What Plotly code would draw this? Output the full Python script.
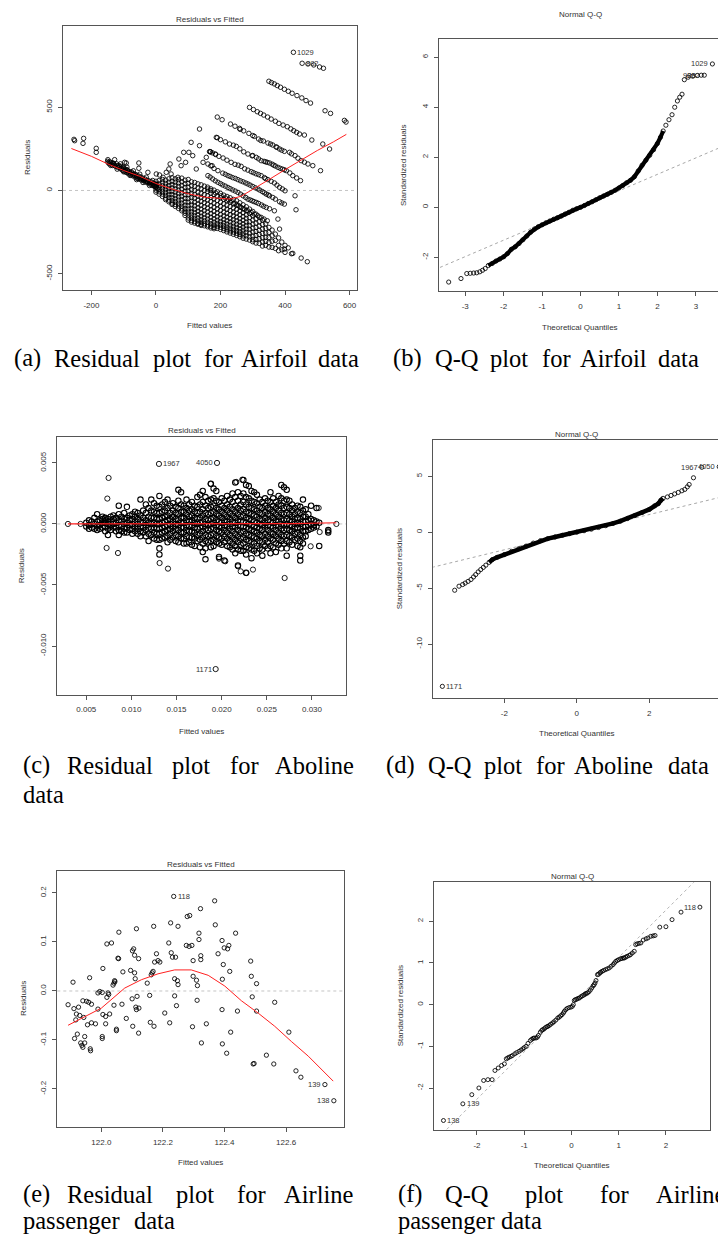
import plotly.graph_objects as go

W, H = 726, 1235
SANS = "Liberation Sans, Arial, sans-serif"
SERIF = "Liberation Serif, Times New Roman, serif"

# ================= (a) Residuals vs Fitted : Airfoil =================
a_points = [
    (-254, 307), (-252, 299), (-224, 313), (-226, 283), (-185, 253), (-185, 229),
    (-149, 185), (-128, 185), (-133, 165), (-97, 169), (-92, 165), (-53, 165), (-53, 133),
    (-150, 175), (-145, 160), (-140, 168), (-135, 150), (-130, 158), (-125, 145), (-122, 160),
    (-118, 138), (-115, 150), (-110, 130), (-108, 145), (-104, 122), (-100, 135), (-98, 115),
    (-95, 128), (-92, 108), (-88, 120), (-85, 100), (-82, 112), (-78, 95), (-75, 105), (-72, 88),
    (-68, 100), (-65, 80), (-62, 95), (-58, 72), (-55, 88), (-52, 68), (-48, 82), (-45, 62),
    (-42, 75), (-38, 58), (-35, 70), (-32, 50), (-28, 62), (-25, 45), (-22, 58), (-18, 38),
    (-15, 52), (-12, 30), (-8, 45), (-5, 25), (-2, 40), (0, 20), (3, 35), (5, 10),
    (-148, 168), (-143, 172), (-138, 158), (-133, 162), (-128, 150), (-120, 148), (-113, 142),
    (-106, 132), (-102, 140), (-96, 120), (-90, 125), (-86, 110), (-80, 105), (-76, 112), (-70, 95),
    (-66, 90), (-60, 85), (-56, 78), (-50, 75), (-46, 70), (-40, 65), (-36, 62), (-30, 56),
    (-26, 52), (-20, 48), (-16, 44), (-10, 38), (-6, 32), (-3, 28), (1, 26), (-140, 150),
    (-120, 128), (-100, 112), (-80, 90), (-60, 65), (-40, 48), (-20, 30), (-110, 160), (-90, 140),
    (-70, 118), (-50, 98), (-30, 80), (-10, 60),
    (-25, 109), (1, 99), (11, 93), (22, 79), (32, 109), (40, 129), (44, 159), (47, 99), (68, 79),
    (71, 189), (78, 149), (86, 229), (92, 169), (102, 229), (109, 289), (114, 209), (125, 129),
    (135, 369), (135, 269), (146, 169), (156, 199), (168, 233), (174, 149), (190, 441), (261, 367),
    (190, 317), (169, 232), (185, 216),
    # stripes (upper right)
    (350, 656), (367, 640), (386, 620), (422, 584), (452, 556), (479, 525), (524, 479), (541, 463),
    (584, 421), (589, 411), (358, 648), (376, 630), (398, 608), (410, 596), (437, 570), (465, 540),
    (471, 760), (489, 754), (507, 742), (519, 734),
    (290, 499), (314, 473), (334, 453), (357, 429), (381, 403), (407, 383), (427, 359), (445, 339),
    (460, 333), (483, 303), (517, 279), (538, 249), (302, 486), (324, 463), (346, 441), (370, 416),
    (394, 393), (418, 370), (436, 349),
    (231, 399), (259, 373), (288, 343), (318, 309), (347, 285), (362, 273), (383, 249), (398, 235),
    (414, 229), (431, 209), (450, 179), (471, 159), (486, 149), (510, 119), (305, 325), (333, 297),
    (375, 259), (440, 194), (205, 425), (245, 386), (272, 358), (300, 330), (325, 300), (355, 279),
    (372, 262), (390, 242), (420, 220), (460, 170),
    (187, 319), (228, 279), (249, 265), (285, 219), (311, 199), (326, 179), (352, 165), (378, 139),
    (404, 119), (424, 89), (448, 59), (300, 210), (340, 172), (365, 152), (392, 128), (200, 305),
    (215, 292), (240, 272), (260, 250), (272, 232), (298, 208), (318, 190), (335, 175), (345, 169),
    (360, 158), (370, 147), (385, 133), (398, 124), (415, 105), (436, 75),
    (166, 233), (184, 219), (233, 169), (264, 145), (295, 113), (326, 89), (347, 65), (367, 45),
    (383, 19), (400, -2), (431, -32), (434, -116), (208, 195), (245, 157), (275, 130), (310, 100),
    (336, 77), (357, 55), (175, 226), (195, 205), (220, 182), (255, 152), (285, 122), (302, 107),
    (318, 95), (340, 71), (375, 32), (392, 9),
    (161, 159), (192, 119), (223, 89), (254, 65), (285, 39), (316, 9), (342, -22), (362, -42),
    (383, -68), (398, -82), (207, 104), (238, 77), (270, 52), (300, 24), (330, -7), (352, -32),
    (170, 148), (180, 132), (215, 97), (230, 84), (246, 72), (262, 58), (278, 45), (292, 32),
    (308, 16), (322, 2), (336, -14), (348, -27), (370, -52), (390, -75),
    (161, 89), (192, 49), (223, 18), (254, -12), (285, -52), (311, -72), (342, -102), (367, -122),
    (176, 69), (207, 33), (238, 3), (270, -32), (298, -62), (327, -87), (168, 80), (184, 58),
    (200, 41), (215, 26), (230, 11), (246, -4), (262, -22), (278, -42), (292, -57), (304, -67),
    (318, -78), (334, -95), (352, -110),
    (161, 9), (202, -32), (233, -62), (264, -102), (295, -132), (326, -162), (345, -182),
    (378, -172), (383, -232), (170, 0), (185, -15), (215, -45), (225, -55), (245, -78), (255, -90),
    (275, -112), (285, -122), (305, -142), (316, -152), (335, -172),
    (398, -352), (424, -378), (450, -406), (469, -428),
]
a_band = [
    (0, [55, 35, 18, 2, -10]), (10, [60, 40, 22, 6, -8, -22]),
    (20, [66, 46, 28, 10, -6, -22, -36]), (30, [62, 42, 24, 6, -12, -30, -46, -55]),
    (40, [70, 50, 30, 12, -6, -24, -42, -58, -68]),
    (50, [76, 55, 35, 15, -5, -25, -44, -62, -76, -84]),
    (60, [70, 50, 30, 10, -10, -30, -49, -67, -84, -96]),
    (70, [66, 45, 24, 3, -18, -38, -58, -77, -94, -108]),
    (80, [74, 52, 30, 8, -14, -35, -56, -76, -95, -111, -122]),
    (90, [62, 40, 18, -4, -26, -48, -69, -89, -108, -124, -137, -150]),
    (100, [66, 43, 20, -3, -26, -48, -70, -91, -111, -130, -148, -165, -178]),
    (110, [52, 28, 4, -20, -43, -66, -88, -109, -129, -148, -165, -180, -190]),
    (120, [48, 24, 0, -24, -47, -70, -92, -113, -133, -152, -170, -186, -196]),
    (130, [40, 15, -10, -34, -58, -81, -104, -125, -146, -165, -183, -198, -203]),
    (140, [34, 9, -16, -41, -65, -89, -112, -134, -155, -174, -191, -204, -210]),
    (150, [26, 0, -25, -50, -74, -98, -121, -143, -164, -183, -200, -212]),
    (160, [20, -6, -32, -57, -82, -106, -129, -151, -172, -191, -208, -218]),
    (170, [10, -16, -42, -67, -92, -116, -139, -161, -182, -200, -215, -225]),
    (180, [2, -24, -50, -76, -101, -125, -148, -170, -190, -208, -222, -230]),
    (190, [-8, -34, -60, -86, -111, -135, -158, -179, -198, -214, -228]),
    (200, [-18, -44, -70, -95, -120, -144, -166, -187, -205, -221, -234]),
    (210, [-28, -54, -80, -105, -130, -153, -175, -195, -212, -228, -241]),
    (220, [-36, -62, -88, -113, -137, -160, -182, -202, -220, -236, -249]),
    (230, [-44, -70, -96, -121, -145, -168, -189, -209, -227, -243, -256]),
    (240, [-54, -80, -105, -130, -153, -175, -196, -216, -234, -250, -263]),
    (250, [-62, -88, -113, -137, -160, -182, -203, -223, -241, -257, -270]),
    (260, [-74, -99, -123, -146, -169, -190, -210, -230, -248, -264, -278]),
    (270, [-86, -110, -134, -157, -179, -200, -220, -239, -257, -273, -287]),
    (280, [-98, -122, -146, -168, -190, -211, -232, -252, -272, -292]),
    (290, [-112, -138, -163, -188, -210, -233, -256, -278, -298]),
    (300, [-126, -152, -178, -202, -226, -250, -274, -296, -308]),
    (310, [-142, -170, -196, -222, -246, -270, -294, -316]),
    (320, [-160, -188, -214, -240, -264, -290, -318]),
    (330, [-178, -205, -232, -258, -284, -310, -334]),
    (340, [-200, -228, -255, -282, -306, -330]),
    (350, [-222, -252, -282, -312, -340]), (360, [-238, -272, -305, -342]),
    (370, [-262, -300, -348]), (380, [-285, -330, -362]), (390, [-310, -356]),
    (400, [-330, -372]), (410, [-345]), (420, [-380]),
]
a_labeled = [(426, 830, "1029"), (453, 764, "882")]
a_lowess_fit = [-262, -200, -150, -100, -50, 0, 50, 100, 150, 200, 230, 264, 300, 350, 400, 450, 500, 550, 590]
a_lowess_res = [252, 205, 160, 120, 85, 42, 8, -20, -40, -50, -52, -35, 5, 65, 125, 185, 240, 292, 337]

# ================= (b) Normal Q-Q : Airfoil =================
b_qq = [
    (-3.43, -2.99), (-3.11, -2.85), (-2.96, -2.65), (-2.87, -2.64), (-2.78, -2.63), (-2.70, -2.62),
    (-2.62, -2.58), (-2.55, -2.52), (-2.48, -2.45), (-2.40, -2.33), (-2.30, -2.25), (-2.20, -2.15),
    (-2.10, -2.07), (-2.00, -1.98), (-1.90, -1.85), (-1.80, -1.68), (-1.70, -1.58), (-1.60, -1.45),
    (-1.50, -1.30), (-1.40, -1.15), (-1.30, -1.00), (-1.20, -0.87), (-1.10, -0.78), (-1.00, -0.70),
    (-0.90, -0.62), (-0.80, -0.55), (-0.70, -0.48), (-0.60, -0.42), (-0.50, -0.35), (-0.40, -0.27),
    (-0.30, -0.20), (-0.20, -0.12), (-0.10, -0.06), (0.00, 0.00), (0.10, 0.07), (0.20, 0.15),
    (0.30, 0.22), (0.40, 0.30), (0.50, 0.38), (0.60, 0.45), (0.70, 0.52), (0.80, 0.60), (0.90, 0.68),
    (1.00, 0.77), (1.10, 0.87), (1.20, 0.98), (1.30, 1.08), (1.40, 1.22), (1.50, 1.45), (1.60, 1.68),
    (1.70, 1.88), (1.80, 2.08), (1.90, 2.30), (2.00, 2.55), (2.08, 2.80), (2.15, 3.05), (2.22, 3.28),
    (2.30, 3.50), (2.38, 3.70), (2.45, 4.00), (2.52, 4.25), (2.58, 4.40), (2.64, 4.52), (2.70, 5.10),
    (2.80, 5.20), (2.92, 5.24), (3.04, 5.27), (3.14, 5.28), (3.22, 5.28), (3.43, 5.73),
]
b_line_th = [-3.8, 3.8]
b_line_sr = [-2.50, 2.50]

# ================= (c) Residuals vs Fitted : Aboline =================
c_cols = [
    (0.0050, [0.0001, -0.0002]), (0.0053, [0.0003, -0.0001, -0.0004]), (0.0056, [0.0002, -0.0003]),
    (0.0059, [0.0005, 0.0000, -0.0004]), (0.0062, [0.0008, 0.0002, -0.0002, -0.0005]),
    (0.0065, [0.0003, -0.0001, -0.0004]), (0.0068, [0.0004, 0.0001, -0.0003, 0.0006]),
    (0.0071, [0.0005, 0.0001, -0.0002, -0.0006, 0.0003]),
    (0.0074, [0.0004, 0.0000, -0.0004, -0.0009, 0.0002]),
    (0.0077, [0.0006, 0.0002, -0.0002, -0.0005]), (0.0080, [0.0004, 0.0000, -0.0003, 0.0007]),
    (0.0083, [0.0005, 0.0001, -0.0003, -0.0006]),
    (0.0086, [0.0015, 0.0008, 0.0003, -0.0001, -0.0005, -0.0009]),
    (0.0089, [0.0006, 0.0002, -0.0002, -0.0006]),
    (0.0092, [0.0009, 0.0004, 0.0000, -0.0004, -0.0007]),
    (0.0095, [0.0014, 0.0005, 0.0001, -0.0003, -0.0007]),
    (0.0098, [0.0007, 0.0003, -0.0001, -0.0005]),
    (0.0101, [0.0008, 0.0004, 0.0000, -0.0004, -0.0008]),
    (0.0104, [0.0006, 0.0002, -0.0002, -0.0006, 0.0010]),
    (0.0107, [0.0009, 0.0004, 0.0000, -0.0004, -0.0008]),
    (0.0110, [0.0020, 0.0007, 0.0002, -0.0002, -0.0006, -0.0010]),
    (0.0113, [0.0011, 0.0005, 0.0001, -0.0003, -0.0007]),
    (0.0116, [0.0016, 0.0009, 0.0003, -0.0001, -0.0005, -0.0010]),
    (0.0119, [0.0013, 0.0006, 0.0001, -0.0003, -0.0008, -0.0014]),
    (0.0122, [0.0020, 0.0011, 0.0005, 0.0000, -0.0004, -0.0009]),
    (0.0125, [0.0017, 0.0010, 0.0005, 0.0001, -0.0003, -0.0007, -0.0012]),
    (0.0128, [0.0015, 0.0009, 0.0004, 0.0000, -0.0004, -0.0008, -0.0013]),
    (0.0131, [0.0023, 0.0014, 0.0009, 0.0004, 0.0000, -0.0004, -0.0008, -0.0013, -0.0020, -0.0025]),
    (0.0134, [0.0016, 0.0010, 0.0005, 0.0001, -0.0003, -0.0007, -0.0012]),
    (0.0137, [0.0018, 0.0011, 0.0006, 0.0002, -0.0002, -0.0006, -0.0011]),
    (0.0140, [0.0020, 0.0013, 0.0007, 0.0003, -0.0001, -0.0005, -0.0010, -0.0015]),
    (0.0143, [0.0015, 0.0009, 0.0004, 0.0000, -0.0004, -0.0008, -0.0013]),
    (0.0146, [0.0017, 0.0011, 0.0006, 0.0002, -0.0002, -0.0006, -0.0011]),
    (0.0149, [0.0014, 0.0009, 0.0004, 0.0000, -0.0004, -0.0009, -0.0014]),
    (0.0152, [0.0028, 0.0019, 0.0013, 0.0008, 0.0003, -0.0001, -0.0005, -0.0010, -0.0015]),
    (0.0155, [0.0026, 0.0016, 0.0010, 0.0005, 0.0001, -0.0003, -0.0007, -0.0012]),
    (0.0158, [0.0015, 0.0010, 0.0005, 0.0001, -0.0003, -0.0007, -0.0012, -0.0016]),
    (0.0161, [0.0020, 0.0013, 0.0008, 0.0003, -0.0001, -0.0005, -0.0010, -0.0016]),
    (0.0164, [0.0016, 0.0011, 0.0006, 0.0002, -0.0002, -0.0006, -0.0011, -0.0015]),
    (0.0167, [0.0018, 0.0012, 0.0007, 0.0003, -0.0001, -0.0006, -0.0011, -0.0017]),
    (0.0170, [0.0015, 0.0010, 0.0005, 0.0001, -0.0003, -0.0007, -0.0012, -0.0018]),
    (0.0173, [0.0022, 0.0014, 0.0009, 0.0004, 0.0000, -0.0004, -0.0009, -0.0014]),
    (0.0176, [0.0024, 0.0016, 0.0010, 0.0005, 0.0001, -0.0003, -0.0008, -0.0013, -0.0019]),
    (0.0179, [0.0027, 0.0018, 0.0012, 0.0007, 0.0002, -0.0002, -0.0006, -0.0011, -0.0016, -0.0023]),
    (0.0182, [0.0022, 0.0015, 0.0009, 0.0004, 0.0000, -0.0004, -0.0009, -0.0014, -0.0020, -0.0029]),
    (0.0185, [0.0019, 0.0013, 0.0008, 0.0003, -0.0001, -0.0005, -0.0010, -0.0015]),
    (0.0188, [0.0033, 0.0020, 0.0014, 0.0009, 0.0004, 0.0000, -0.0004, -0.0009, -0.0014, -0.0019]),
    (0.0191, [0.0029, 0.0021, 0.0015, 0.0010, 0.0005, 0.0001, -0.0003, -0.0008, -0.0013, -0.0018]),
    (0.0194, [0.0027, 0.0019, 0.0013, 0.0008, 0.0003, -0.0001, -0.0005, -0.0010, -0.0015]),
    (0.0197, [0.0018, 0.0012, 0.0007, 0.0002, -0.0002, -0.0006, -0.0011, -0.0016, -0.0027]),
    (0.0200, [0.0021, 0.0015, 0.0010, 0.0005, 0.0001, -0.0003, -0.0007, -0.0012, -0.0017]),
    (0.0203, [0.0019, 0.0013, 0.0008, 0.0003, -0.0001, -0.0005, -0.0010, -0.0015, -0.0030]),
    (0.0206, [0.0023, 0.0016, 0.0011, 0.0006, 0.0002, -0.0002, -0.0007, -0.0012, -0.0018]),
    (0.0209, [0.0020, 0.0014, 0.0009, 0.0004, 0.0000, -0.0004, -0.0009, -0.0014, -0.0019]),
    (0.0212, [0.0025, 0.0018, 0.0012, 0.0007, 0.0002, -0.0002, -0.0006, -0.0011, -0.0016, -0.0021]),
    (0.0215, [0.0034, 0.0022, 0.0015, 0.0010, 0.0005, 0.0001, -0.0003, -0.0008, -0.0013, -0.0018, -0.0024]),
    (0.0218, [0.0026, 0.0019, 0.0013, 0.0008, 0.0003, -0.0001, -0.0005, -0.0010, -0.0015, -0.0021, -0.0034]),
    (0.0221, [0.0023, 0.0016, 0.0011, 0.0006, 0.0002, -0.0002, -0.0007, -0.0012, -0.0017, -0.0022]),
    (0.0224, [0.0036, 0.0025, 0.0018, 0.0012, 0.0007, 0.0002, -0.0002, -0.0006, -0.0011, -0.0016, -0.0022]),
    (0.0227, [0.0032, 0.0022, 0.0016, 0.0010, 0.0005, 0.0001, -0.0003, -0.0008, -0.0013, -0.0019, -0.0025, -0.0040]),
    (0.0230, [0.0031, 0.0021, 0.0014, 0.0009, 0.0004, 0.0000, -0.0004, -0.0009, -0.0014, -0.0020]),
    (0.0233, [0.0027, 0.0019, 0.0013, 0.0008, 0.0003, -0.0001, -0.0005, -0.0010, -0.0015, -0.0021, -0.0028]),
    (0.0236, [0.0026, 0.0018, 0.0012, 0.0007, 0.0002, -0.0002, -0.0006, -0.0011, -0.0016, -0.0022]),
    (0.0239, [0.0024, 0.0017, 0.0011, 0.0006, 0.0001, -0.0003, -0.0007, -0.0012, -0.0018, -0.0024]),
    (0.0242, [0.0020, 0.0014, 0.0009, 0.0004, 0.0000, -0.0004, -0.0009, -0.0014, -0.0020]),
    (0.0245, [0.0018, 0.0013, 0.0008, 0.0003, -0.0001, -0.0005, -0.0010, -0.0015, -0.0021, -0.0026]),
    (0.0248, [0.0021, 0.0015, 0.0010, 0.0005, 0.0001, -0.0003, -0.0008, -0.0013, -0.0018]),
    (0.0251, [0.0019, 0.0013, 0.0008, 0.0003, -0.0001, -0.0005, -0.0010, -0.0015, -0.0020]),
    (0.0254, [0.0026, 0.0018, 0.0012, 0.0007, 0.0002, -0.0002, -0.0007, -0.0012, -0.0018, -0.0024]),
    (0.0257, [0.0021, 0.0015, 0.0010, 0.0005, 0.0001, -0.0003, -0.0008, -0.0013, -0.0019]),
    (0.0260, [0.0018, 0.0013, 0.0008, 0.0003, -0.0001, -0.0005, -0.0010, -0.0016, -0.0023]),
    (0.0263, [0.0023, 0.0016, 0.0011, 0.0006, 0.0002, -0.0002, -0.0007, -0.0012, -0.0017]),
    (0.0266, [0.0032, 0.0021, 0.0015, 0.0009, 0.0004, 0.0000, -0.0004, -0.0009, -0.0014, -0.0020]),
    (0.0269, [0.0030, 0.0019, 0.0013, 0.0008, 0.0003, -0.0001, -0.0005, -0.0010, -0.0016]),
    (0.0272, [0.0028, 0.0020, 0.0014, 0.0009, 0.0004, 0.0000, -0.0004, -0.0009, -0.0014, -0.0020, -0.0026]),
    (0.0275, [0.0019, 0.0013, 0.0008, 0.0003, -0.0001, -0.0005, -0.0010, -0.0015]),
    (0.0278, [0.0016, 0.0011, 0.0006, 0.0002, -0.0002, -0.0006, -0.0011, -0.0017]),
    (0.0281, [0.0013, 0.0008, 0.0004, 0.0000, -0.0004, -0.0008, -0.0013]),
    (0.0284, [0.0015, 0.0010, 0.0005, 0.0001, -0.0003, -0.0007, -0.0012, -0.0018]),
    (0.0287, [0.0014, 0.0009, 0.0004, 0.0000, -0.0004, -0.0009, -0.0014, -0.0019, -0.0026, -0.0030]),
    (0.0290, [0.0020, 0.0011, 0.0006, 0.0002, -0.0002, -0.0006, -0.0011, -0.0016]),
    (0.0293, [0.0012, 0.0006, 0.0002, -0.0002, -0.0006, -0.0010]),
    (0.0296, [0.0008, 0.0003, -0.0001, -0.0005]), (0.0299, [0.0015, 0.0004, 0.0000, -0.0004]),
    (0.0302, [0.0003, -0.0001, -0.0003]), (0.0305, [0.0002, -0.0002, 0.0013]),
    (0.0308, [0.0001, -0.0018]), (0.0318, [-0.0005, -0.0007]),
]
c_points = [
    (0.00297, 0.0), (0.00437, 0.0), (0.00747, 0.00377), (0.00733, 0.00208), (0.00725, -0.00197),
    (0.00851, -0.00238), (0.01405, -0.00366), (0.01312, -0.0032), (0.02697, -0.00443),
    (0.02228, 0.00363), (0.02162, 0.00344), (0.01877, 0.00328), (0.02273, -0.00402),
    (0.02210, -0.00388), (0.02346, -0.00374), (0.0218, -0.00347), (0.0204, -0.00306),
    (0.0197, -0.00284), (0.03085, -0.00066), (0.03178, -0.0006), (0.02985, -0.00183),
    (0.03074, 0.00131), (0.0327, 0.0),
]
c_labeled = [(0.01305, 0.00492, "1967", "r"), (0.01948, 0.0050, "4050", "l"), (0.01933, -0.01189, "1171", "l")]
c_lowess_fit = [0.00297, 0.010, 0.020, 0.028, 0.0327]
c_lowess_res = [0.0, 0.0, 0.0, 0.00003, 0.0001]

# ================= (d) Normal Q-Q : Aboline =================
d_qq = [
    (-3.37, -5.19), (-3.25, -4.83), (-3.15, -4.68), (-3.08, -4.55), (-3.00, -4.40), (-2.92, -4.23),
    (-2.85, -4.00), (-2.79, -3.79), (-2.72, -3.55), (-2.65, -3.34), (-2.58, -3.15), (-2.51, -2.95),
    (-2.42, -2.70), (-2.33, -2.45), (-2.20, -2.25), (-2.00, -2.00), (-1.80, -1.72), (-1.60, -1.48),
    (-1.40, -1.25), (-1.20, -0.98), (-1.00, -0.76), (-0.80, -0.58), (-0.60, -0.43), (-0.40, -0.28),
    (-0.20, -0.13), (0.00, 0.00), (0.20, 0.13), (0.40, 0.27), (0.60, 0.42), (0.80, 0.58),
    (1.00, 0.78), (1.20, 0.98), (1.40, 1.22), (1.60, 1.48), (1.80, 1.75), (2.00, 2.03),
    (2.15, 2.35), (2.25, 2.55), (2.32, 2.85), (2.38, 3.02), (2.50, 3.15), (2.60, 3.28),
    (2.70, 3.42), (2.80, 3.55), (2.90, 3.70), (2.98, 3.82), (3.05, 4.05), (3.10, 4.26),
    (3.22, 4.86),
]
d_labeled = [(-3.71, -13.78, "1171", "r"), (3.45, 5.80, "1967", "l"), (3.93, 5.85, "4050", "l")]
d_line_th = [-4.0, 4.0]
d_line_sr = [-3.15, 3.15]

# ================= (e) Residuals vs Fitted : Airline passenger =================
e_points = [
    (121.892, -0.028), (121.908, 0.018), (121.911, -0.036), (121.913, -0.097), (121.917, -0.059),
    (121.919, -0.047), (121.922, -0.088), (121.926, -0.033), (121.930, -0.050), (121.933, -0.106),
    (121.937, -0.111), (121.940, -0.020), (121.940, -0.115), (121.943, -0.054), (121.946, -0.093),
    (121.946, -0.106), (121.952, -0.021), (121.955, -0.069), (121.959, -0.023), (121.962, 0.027),
    (121.964, -0.118), (121.965, -0.122), (121.968, -0.027), (121.968, -0.065), (121.981, -0.067),
    (121.989, -0.037), (121.989, -0.004), (121.995, -0.001), (122.003, -0.003), (122.003, -0.093),
    (122.003, -0.097), (122.005, 0.046), (122.005, -0.048), (122.014, -0.067), (122.014, -0.052),
    (122.018, 0.096), (122.018, -0.013), (122.022, -0.004), (122.024, -0.007), (122.027, -0.047),
    (122.033, 0.098), (122.038, 0.012), (122.041, -0.029), (122.041, 0.016), (122.043, 0.021),
    (122.044, 0.019), (122.049, -0.078), (122.049, -0.081), (122.054, 0.067), (122.056, 0.066),
    (122.057, 0.120), (122.067, -0.027), (122.070, 0.039), (122.081, -0.056), (122.095, 0.042),
    (122.100, -0.016), (122.101, 0.082), (122.105, 0.086), (122.102, -0.072), (122.108, 0.073),
    (122.108, 0.037), (122.110, 0.025), (122.112, -0.033), (122.114, -0.038), (122.114, 0.127),
    (122.116, -0.011), (122.121, 0.066), (122.122, -0.035), (122.121, -0.086), (122.149, 0.016),
    (122.157, -0.009), (122.159, -0.064), (122.162, 0.033), (122.165, 0.037), (122.168, 0.040),
    (122.170, 0.132), (122.171, -0.072), (122.173, 0.059), (122.179, 0.076), (122.184, 0.062),
    (122.190, 0.059), (122.206, -0.045), (122.219, 0.098), (122.222, -0.065), (122.225, 0.139),
    (122.227, 0.078), (122.231, 0.069), (122.238, 0.025), (122.238, -0.010), (122.241, 0.069),
    (122.244, -0.030), (122.247, 0.021), (122.249, 0.013), (122.249, 0.132), (122.276, 0.093),
    (122.285, 0.091), (122.279, 0.152), (122.287, 0.154), (122.294, 0.093), (122.298, 0.062),
    (122.296, -0.073), (122.298, 0.030), (122.309, 0.022), (122.312, 0.011), (122.311, -0.019),
    (122.317, 0.118), (122.317, 0.105), (122.322, 0.168), (122.323, 0.072), (122.323, 0.064),
    (122.325, -0.106), (122.341, -0.067), (122.368, 0.184), (122.370, 0.135), (122.379, 0.076),
    (122.392, 0.103), (122.393, 0.024), (122.392, -0.038), (122.396, 0.054), (122.393, -0.108),
    (122.399, 0.088), (122.410, 0.086), (122.414, 0.093), (122.407, -0.127), (122.417, 0.040),
    (122.420, -0.084), (122.436, 0.118), (122.442, -0.041), (122.485, 0.061), (122.487, 0.030),
    (122.490, -0.012), (122.493, -0.149), (122.496, -0.148), (122.504, 0.015), (122.504, -0.041),
    (122.536, -0.131), (122.560, -0.149), (122.563, -0.023), (122.609, -0.084), (122.632, -0.163),
    (122.648, -0.176),
]
e_labeled = [(122.235, 0.193, "118", "r"), (122.726, -0.191, "139", "l"), (122.755, -0.224, "138", "l")]
e_lowess_fit = [121.892, 122.0, 122.076, 122.130, 122.184, 122.238, 122.292, 122.347, 122.401,
                122.455, 122.509, 122.563, 122.617, 122.672, 122.753]
e_lowess_res = [-0.070, -0.035, 0.006, 0.023, 0.035, 0.043, 0.043, 0.032, 0.010, -0.020, -0.045,
                -0.072, -0.103, -0.133, -0.184]

# ================= (f) Normal Q-Q : Airline passenger =================
f_qq = [
    (-2.11, -2.16), (-1.96, -2.00), (-1.86, -1.82), (-1.77, -1.80), (-1.68, -1.80), (-1.62, -1.58),
    (-1.55, -1.52), (-1.48, -1.46), (-1.42, -1.42), (-1.38, -1.30), (-1.35, -1.28), (-1.32, -1.26),
    (-1.28, -1.24), (-1.25, -1.22), (-1.20, -1.18), (-1.16, -1.15), (-1.11, -1.12), (-1.07, -1.09),
    (-1.03, -1.06), (-1.00, -1.03), (-0.96, -1.00), (-0.92, -0.93), (-0.87, -0.86), (-0.84, -0.83),
    (-0.81, -0.81), (-0.79, -0.80), (-0.75, -0.80), (-0.72, -0.78), (-0.70, -0.74), (-0.66, -0.66),
    (-0.63, -0.62), (-0.61, -0.60), (-0.58, -0.58), (-0.55, -0.55), (-0.52, -0.53), (-0.50, -0.52),
    (-0.47, -0.50), (-0.44, -0.47), (-0.40, -0.44), (-0.37, -0.41), (-0.33, -0.37), (-0.29, -0.32),
    (-0.26, -0.30), (-0.23, -0.27), (-0.20, -0.24), (-0.17, -0.20), (-0.15, -0.16), (-0.12, -0.12),
    (-0.09, -0.09), (-0.05, -0.07), (-0.01, -0.06), (0.02, -0.04), (0.04, 0.00), (0.06, 0.10),
    (0.08, 0.12), (0.11, 0.13), (0.14, 0.15), (0.17, 0.16), (0.20, 0.19), (0.23, 0.21), (0.26, 0.23),
    (0.29, 0.25), (0.31, 0.27), (0.34, 0.28), (0.37, 0.31), (0.40, 0.35), (0.43, 0.40), (0.46, 0.45),
    (0.48, 0.48), (0.50, 0.52), (0.52, 0.58), (0.55, 0.72), (0.57, 0.73), (0.60, 0.76), (0.62, 0.78),
    (0.65, 0.80), (0.68, 0.82), (0.72, 0.84), (0.76, 0.86), (0.80, 0.88), (0.84, 0.92), (0.88, 0.96),
    (0.91, 1.00), (0.94, 1.04), (0.97, 1.06), (1.00, 1.08), (1.04, 1.10), (1.07, 1.11), (1.10, 1.12),
    (1.12, 1.12), (1.15, 1.14), (1.18, 1.16), (1.22, 1.18), (1.25, 1.20), (1.29, 1.24), (1.33, 1.28),
    (1.36, 1.44), (1.39, 1.46), (1.43, 1.47), (1.47, 1.48), (1.52, 1.55), (1.58, 1.58), (1.62, 1.60),
    (1.68, 1.64), (1.73, 1.65), (1.77, 1.66), (1.87, 1.86), (2.00, 1.87), (2.13, 2.04), (2.32, 2.22),
]
f_labeled = [(-2.71, -2.78, "138", "r"), (-2.30, -2.38, "139", "r"), (2.72, 2.34, "118", "l")]
f_line_th = [-3.0, 3.0]
f_line_sr = [-3.40, 3.40]

# ================= tick values / labels =================
a_xt = [-200, 0, 200, 400, 600]; a_yt = [-500, 0, 500]
b_xt = [-3, -2, -1, 0, 1, 2, 3]; b_yt = [-2, 0, 2, 4, 6]
c_xt = [0.005, 0.010, 0.015, 0.020, 0.025, 0.030]; c_yt = [-0.010, -0.005, 0.0, 0.005]
c_xl = ["0.005", "0.010", "0.015", "0.020", "0.025", "0.030"]; c_yl = ["-0.010", "-0.005", "0.000", "0.005"]
d_xt = [-2, 0, 2]; d_yt = [-10, -5, 0, 5]
e_xt = [122.0, 122.2, 122.4, 122.6]; e_yt = [-0.2, -0.1, 0.0, 0.1, 0.2]
e_xl = ["122.0", "122.2", "122.4", "122.6"]; e_yl = ["-0.2", "-0.1", "0.0", "0.1", "0.2"]
f_xt = [-2, -1, 0, 1, 2]; f_yt = [-2, -1, 0, 1, 2]

fig = go.Figure()
annotations = []
shapes = []


def pann(text, x, y, size=8, family=SANS, color="#333", angle=0, xanchor="center", yanchor="middle"):
    annotations.append(dict(text=text, x=x / W, y=1 - y / H, xref="paper", yref="paper",
                            showarrow=False, textangle=angle, xanchor=xanchor, yanchor=yanchor,
                            font=dict(size=size, family=family, color=color)))


def dann(text, x, y, ax, side):
    annotations.append(dict(text=text, x=x, y=y, xref=ax[0], yref=ax[1], showarrow=False,
                            xanchor="left" if side == "r" else "right",
                            xshift=2 if side == "r" else -2,
                            font=dict(size=7.5, family=SANS, color="#333")))


def pts(xs, ys, ax, size=4.6, lw=0.85):
    fig.add_trace(go.Scatter(x=xs, y=ys, mode="markers", xaxis=ax[0], yaxis=ax[1],
                             marker=dict(symbol="circle-open", size=size, color="black",
                                         line=dict(width=lw)),
                             hoverinfo="skip", showlegend=False))


def line(xs, ys, ax, color, width=1, dash="solid"):
    fig.add_trace(go.Scatter(x=xs, y=ys, mode="lines", xaxis=ax[0], yaxis=ax[1],
                             line=dict(color=color, width=width, dash=dash),
                             hoverinfo="skip", showlegend=False))


def zero(ax):
    shapes.append(dict(type="line", xref=ax[0] + " domain", yref=ax[1], x0=0, x1=1, y0=0, y1=0,
                       line=dict(color="#c4c4c4", width=1, dash="dot"), layer="below"))


def unpack(pairs):
    return [p[0] for p in pairs], [p[1] for p in pairs]


def expand(cols):
    xs, ys = [], []
    for x, col in cols:
        for y in col:
            xs.append(x)
            ys.append(y)
    return xs, ys


# ---- (a)
AX_A = ("x", "y")
zero(AX_A)
bx, by = expand(a_band)
pts(bx, by, AX_A, size=4.5)
px_, py_ = unpack(a_points)
pts(px_, py_, AX_A, size=4.5)
pts([p[0] for p in a_labeled], [p[1] for p in a_labeled], AX_A, size=4.5)
line(a_lowess_fit, a_lowess_res, AX_A, "#ff2020", 1)
for x, y, t in a_labeled:
    dann(t, x, y, AX_A, "r")

# ---- (b)
AX_B = ("x2", "y2")
line(b_line_th, b_line_sr, AX_B, "#a8a8a8", 1, "dot")
bqx, bqy = unpack(b_qq)
dense = [p for p in b_qq if -2.45 <= p[0] <= 2.2]
line([p[0] for p in dense], [p[1] for p in dense], AX_B, "black", 4.2)
pts(bqx, bqy, AX_B, size=4.2)
dann("1029", 3.43, 5.73, AX_B, "l")
dann("920", 3.12, 5.26, AX_B, "l")
dann("882", 3.22, 5.26, AX_B, "l")

# ---- (c)
AX_C = ("x3", "y3")
zero(AX_C)
cx, cy = expand(c_cols)
pts(cx, cy, AX_C, size=5.4, lw=1.1)
ox, oy = unpack(c_points)
pts(ox, oy, AX_C, size=5.2, lw=0.9)
pts([p[0] for p in c_labeled], [p[1] for p in c_labeled], AX_C, size=5.2, lw=0.9)
line(c_lowess_fit, c_lowess_res, AX_C, "#ff2020", 1.2)
for x, y, t, s in c_labeled:
    dann(t, x, y, AX_C, s)

# ---- (d)
AX_D = ("x4", "y4")
line(d_line_th, d_line_sr, AX_D, "#a8a8a8", 1, "dot")
dqx, dqy = unpack(d_qq)
dense = [p for p in d_qq if -2.5 <= p[0] <= 2.4]
line([p[0] for p in dense], [p[1] for p in dense], AX_D, "black", 4.5)
pts(dqx, dqy, AX_D, size=4.2)
pts([p[0] for p in d_labeled], [p[1] for p in d_labeled], AX_D, size=4.2)
for x, y, t, s in d_labeled:
    dann(t, x, y, AX_D, s)

# ---- (e)
AX_E = ("x5", "y5")
zero(AX_E)
ex, ey = unpack(e_points)
pts(ex, ey, AX_E, size=4.3)
pts([p[0] for p in e_labeled], [p[1] for p in e_labeled], AX_E, size=4.3)
line(e_lowess_fit, e_lowess_res, AX_E, "#ff2020", 1)
for x, y, t, s in e_labeled:
    dann(t, x, y, AX_E, s)

# ---- (f)
AX_F = ("x6", "y6")
line(f_line_th, f_line_sr, AX_F, "#b4b4b4", 1, "dot")
fx, fy = unpack(f_qq)
pts(fx, fy, AX_F, size=4)
pts([p[0] for p in f_labeled], [p[1] for p in f_labeled], AX_F, size=4)
for x, y, t, s in f_labeled:
    dann(t, x, y, AX_F, s)

# ================= layout =================
TICKFONT = dict(family=SANS, size=8, color="#333")


def xax(fx_px, rng, vals, texts, anchor):
    return dict(domain=[fx_px[0] / W, fx_px[1] / W], range=rng, tickvals=vals, ticktext=texts,
                anchor=anchor, showline=True, mirror=True, linecolor="#555", linewidth=1,
                ticks="outside", ticklen=4, tickwidth=1, tickcolor="#555", showgrid=False,
                zeroline=False, tickfont=TICKFONT, ticklabelstandoff=3, fixedrange=True)


def yax(fy_px, rng, vals, texts, anchor):
    d = xax((0, 0), rng, vals, texts, anchor)
    d["domain"] = [1 - fy_px[1] / H, 1 - fy_px[0] / H]
    d["tickangle"] = -90
    return d


lay = dict(
    xaxis=xax((55, 349), [-288, 623], a_xt, [str(v) for v in a_xt], "y"),
    yaxis=yax((18, 282), [-598, 988], a_yt, [str(v) for v in a_yt], "x"),
    xaxis2=xax((430.7, 714), [-3.69, 3.68], b_xt, [str(v) for v in b_xt], "y2"),
    yaxis2=yax((30.7, 283.3), [-3.36, 6.74], b_yt, [str(v) for v in b_yt], "x2"),
    xaxis3=xax((49.3, 338.3), [0.00179, 0.0338], c_xt, c_xl, "y3"),
    yaxis3=yax((429.3, 686.7), [-0.01399, 0.0071], c_yt, c_yl, "x3"),
    xaxis4=xax((425.3, 712.3), [-3.96, 3.96], d_xt, [str(v) for v in d_xt], "y4"),
    yaxis4=yax((432.3, 690), [-14.82, 8.21], d_yt, [str(v) for v in d_yt], "x4"),
    xaxis5=xax((49.3, 336), [121.857, 122.788], e_xt, e_xl, "y5"),
    yaxis5=yax((862.7, 1119), [-0.2776, 0.2455], e_yt, e_yl, "x5"),
    xaxis6=xax((426.3, 702.3), [-2.904, 2.94], f_xt, [str(v) for v in f_xt], "y6"),
    yaxis6=yax((874.3, 1122.3), [-3.015, 2.936], f_yt, [str(v) for v in f_yt], "x6"),
)

# panel titles and axis titles
pann("Residuals vs Fitted", 202, 11.7)
pann("Fitted values", 202, 317.7)
pann("Residuals", 19, 150, angle=-90)
pann("Normal Q-Q", 572.4, 6.7)
pann("Theoretical Quantiles", 572.4, 319.3)
pann("Standardized residuals", 396, 157, angle=-90)
pann("Residuals vs Fitted", 193.8, 422.3)
pann("Fitted values", 193.8, 723)
pann("Residuals", 13.3, 558, angle=-90)
pann("Normal Q-Q", 568.8, 426.7)
pann("Theoretical Quantiles", 568.8, 725)
pann("Standardized residuals", 391.3, 561, angle=-90)
pann("Residuals vs Fitted", 192.7, 856)
pann("Fitted values", 192.7, 1154)
pann("Residuals", 15, 991, angle=-90)
pann("Normal Q-Q", 564.3, 868)
pann("Theoretical Quantiles", 564.3, 1157)
pann("Standardized residuals", 392.3, 998, angle=-90)

# captions (word by word; last word of a justified line is anchored at the right margin)
CAP = 24.5
captions = [
    (["(a)", "Residual", "plot", "for", "Airfoil", "data"], [4, 43.5, 143.3, 193.7, 231.2, 307.5], 350, None),
    (["(b)", "Q-Q", "plot", "for", "Airfoil", "data"], [383, 424.7, 480.2, 531.6, 569.9, 647.8], 350, None),
    (["(c)", "Residual", "plot", "for", "Aboline"], [13, 57, 162, 220, 348], 757, "right"),
    (["data"], [13], 786, None),
    (["(d)", "Q-Q", "plot", "for", "Aboline", "data"], [376, 418, 474, 525.8, 564.4, 657.5], 757, None),
    (["(e)", "Residual", "plot", "for", "Airline"], [13, 57, 166, 227, 348], 1186, "right"),
    (["passenger", "data"], [13, 124], 1212, None),
    (["(f)", "Q-Q", "plot", "for", "Airline"], [388, 435, 515, 590, 720], 1186, "right"),
    (["passenger", "data"], [388, 491], 1212, None),
]
for words, xs, y, last in captions:
    for i, (w, x) in enumerate(zip(words, xs)):
        anchor = last if (last and i == len(words) - 1) else "left"
        pann(w, x, y, size=CAP, family=SERIF, color="black", xanchor=anchor)

# faint vertical line at the right edge of panel (f) image
shapes.append(dict(type="line", xref="paper", yref="paper", x0=722 / W, x1=722 / W,
                   y0=1 - 838 / H, y1=1 - 1162 / H, line=dict(color="#e2e2e2", width=1)))

fig.update_layout(width=W, height=H, margin=dict(l=0, r=0, t=0, b=0), autosize=False,
                  paper_bgcolor="white", plot_bgcolor="white", showlegend=False,
                  annotations=annotations, shapes=shapes, **lay)

fig.write_html("out.html", config={"displayModeBar": False})
